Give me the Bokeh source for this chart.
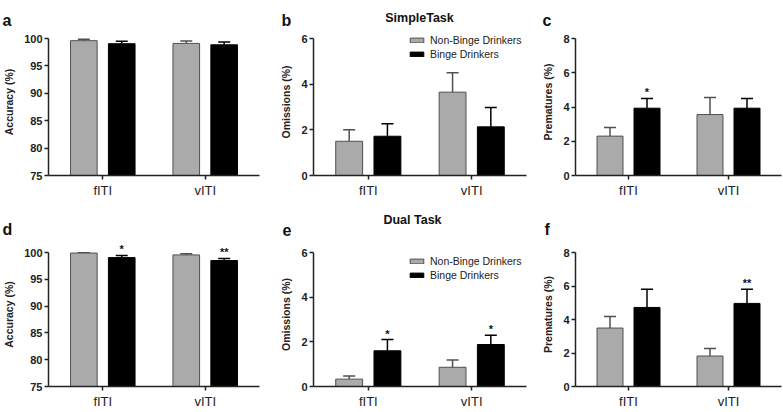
from bokeh.plotting import figure
from bokeh.models import (FactorRange, Range1d, Whisker, TeeHead, ColumnDataSource,
                          LabelSet, FixedTicker)
from bokeh.transform import dodge
from bokeh.layouts import row, column
from bokeh.embed import file_html
from bokeh.resources import INLINE
from bokeh.core.properties import value

# ---------------- data ----------------
categories = ["fITI", "vITI"]
groups = ["Non-Binge Drinkers", "Binge Drinkers"]

row1_letters = ["a", "b", "c"]
row2_letters = ["d", "e", "f"]
row1_title = "SimpleTask"
row2_title = "Dual Task"

acc_label = "Accuracy (%)"
om_label = "Omissions (%)"
pre_label = "Prematures (%)"

acc_ticks = [75, 80, 85, 90, 95, 100]
om_ticks = [0, 2, 4, 6]
pre_ticks = [0, 2, 4, 6, 8]

# Simple task
a_nb = [99.6, 99.1]
a_nb_err = [0.25, 0.45]
a_bd = [99.05, 98.85]
a_bd_err = [0.45, 0.5]

b_nb = [1.5, 3.65]
b_nb_err = [0.5, 0.85]
b_bd = [1.72, 2.13]
b_bd_err = [0.55, 0.85]

c_nb = [2.3, 3.56]
c_nb_err = [0.5, 1.0]
c_bd = [3.93, 3.93]
c_bd_err = [0.57, 0.57]
c_bd_stars = ["*", ""]

# Dual task
d_nb = [99.9, 99.55]
d_nb_err = [0.05, 0.2]
d_bd = [99.05, 98.5]
d_bd_err = [0.4, 0.4]
d_bd_stars = ["*", "**"]

e_nb = [0.33, 0.86]
e_nb_err = [0.14, 0.33]
e_bd = [1.6, 1.88]
e_bd_err = [0.5, 0.42]
e_bd_stars = ["*", "*"]

f_nb = [3.49, 1.82]
f_nb_err = [0.69, 0.45]
f_bd = [4.72, 4.96]
f_bd_err = [1.08, 0.84]
f_bd_stars = ["", "**"]

no_stars = ["", ""]

# ---------------- style / layout ----------------
FONT = "Liberation Sans"
GREY = "#aaaaaa"
GREY_LINE = "#505050"
OFF = 0.185
BW = 0.26
WIDTHS = [264, 263, 255]
TOTAL_W = sum(WIDTHS)
BORDER_L = [47, 49, 48]
BORDER_R = [5, 1, 1]
EXTRA = 10            # px of frame above the top tick (room for stars)


def make_panel(ylabel, ticks, nb, nb_err, bd, bd_err, bd_stars, col,
               height, bt, bb, legend_dy=None):
    width, bl, br = WIDTHS[col], BORDER_L[col], BORDER_R[col]
    y0, y1 = ticks[0], ticks[-1]
    axis_h = height - bt - bb - EXTRA
    y_end = y1 + (y1 - y0) * EXTRA / axis_h
    p = figure(x_range=FactorRange(factors=categories, range_padding=0.03),
               y_range=Range1d(y0, y_end), width=width, height=height,
               output_backend="svg", toolbar_location=None, title=None,
               min_border_left=bl, min_border_right=br,
               min_border_top=bt, min_border_bottom=bb)
    p.outline_line_color = None
    p.grid.visible = False

    legend = legend_dy is not None
    specs = [
        (nb, nb_err, no_stars, -OFF, GREY, GREY_LINE, groups[0]),
        (bd, bd_err, bd_stars, OFF, "black", "black", groups[1]),
    ]
    for vals, errs, stars, off, fc, lc, name in specs:
        hi = [v + e for v, e in zip(vals, errs)]
        src = ColumnDataSource(dict(x=categories, top=vals, hi=hi, star=stars))
        xpos = dodge("x", off, range=p.x_range)
        kw = dict(legend_label=name) if legend else {}
        p.vbar(x=xpos, top="top", bottom=y0, width=BW, source=src,
               fill_color=fc, line_color=lc, line_width=1, **kw)
        p.add_layout(Whisker(base=xpos, lower="top", upper="hi", source=src,
                             line_color=lc, line_width=1.5,
                             upper_head=TeeHead(size=12, line_color=lc, line_width=1.5),
                             lower_head=None))
        p.add_layout(LabelSet(x=xpos, y="hi", text="star", source=src,
                              text_align="center", text_baseline="alphabetic",
                              y_offset=2, text_font=value(FONT),
                              text_font_size=value("11px"), text_font_style="bold",
                              text_color="#111111"))

    for ax in (p.xaxis[0], p.yaxis[0]):
        ax.axis_line_width = 1.5
        ax.axis_line_color = "#222222"
        ax.major_tick_line_width = 1.5
        ax.major_tick_line_color = "#222222"
        ax.major_tick_out = 4
        ax.major_tick_in = 0
        ax.minor_tick_line_color = None
    p.xaxis.major_label_text_font = FONT
    p.xaxis.major_label_text_font_size = "13px"
    p.xaxis.major_label_text_color = "#222222"
    p.xaxis.major_label_standoff = 3

    p.yaxis.ticker = FixedTicker(ticks=ticks)
    p.yaxis.bounds = (y0, y1)
    p.yaxis.major_label_text_font = FONT
    p.yaxis.major_label_text_font_size = "11px"
    p.yaxis.major_label_text_font_style = "bold"
    p.yaxis.major_label_text_color = "#222222"
    p.yaxis.major_label_standoff = 2
    p.yaxis.axis_label = ylabel
    p.yaxis.axis_label_text_font = FONT
    p.yaxis.axis_label_text_font_size = "10.5px"
    p.yaxis.axis_label_text_font_style = "bold"
    p.yaxis.axis_label_text_color = "#222222"
    p.yaxis.axis_label_standoff = 6

    if legend:
        lg = p.legend[0]
        frame_w = width - bl - br
        lg.location = (frame_w - 118, axis_h + legend_dy)
        lg.background_fill_alpha = 0
        lg.border_line_alpha = 0
        lg.padding = 0
        lg.margin = 0
        lg.spacing = 1
        lg.glyph_width = 17
        lg.glyph_height = 6
        lg.label_height = 13
        lg.label_standoff = 5
        lg.label_text_font = FONT
        lg.label_text_font_size = "10.5px"
        lg.label_text_color = "#222222"
    return p


def make_header(height, letters, title, letter_base, title_base, letter_dx, title_x):
    h = figure(width=TOTAL_W, height=height, x_range=Range1d(0, TOTAL_W),
               y_range=Range1d(0, height), output_backend="svg",
               toolbar_location=None, title=None, min_border=0,
               x_axis_location=None, y_axis_location=None)
    h.outline_line_color = None
    h.grid.visible = False
    lefts = [sum(WIDTHS[:i]) + BORDER_L[i] for i in range(3)]
    lx = [lefts[i] + letter_dx[i] for i in range(3)]
    h.text(x=lx, y=[letter_base] * 3, text=letters, text_font=value(FONT),
           text_font_size=value("16px"), text_font_style="bold",
           text_align="left", text_baseline="alphabetic", text_color="#111111")
    h.text(x=[title_x], y=[title_base], text=[title], text_font=value(FONT),
           text_font_size=value("12.5px"), text_font_style="bold",
           text_align="center", text_baseline="alphabetic", text_color="#111111")
    return h


H1, BT1, BB1 = 172, 0, 25
H2, BT2, BB2 = 173, 4, 25

pa = make_panel(acc_label, acc_ticks, a_nb, a_nb_err, a_bd, a_bd_err, no_stars, 0, H1, BT1, BB1)
pb = make_panel(om_label, om_ticks, b_nb, b_nb_err, b_bd, b_bd_err, no_stars, 1, H1, BT1, BB1, legend_dy=-22)
pc = make_panel(pre_label, pre_ticks, c_nb, c_nb_err, c_bd, c_bd_err, c_bd_stars, 2, H1, BT1, BB1)
pd_ = make_panel(acc_label, acc_ticks, d_nb, d_nb_err, d_bd, d_bd_err, d_bd_stars, 0, H2, BT2, BB2)
pe = make_panel(om_label, om_ticks, e_nb, e_nb_err, e_bd, e_bd_err, e_bd_stars, 1, H2, BT2, BB2, legend_dy=-29)
pf = make_panel(pre_label, pre_ticks, f_nb, f_nb_err, f_bd, f_bd_err, f_bd_stars, 2, H2, BT2, BB2)

hdr1 = make_header(28, row1_letters, row1_title, 8, 11, [-45, -32, -33], 419)
hdr2 = make_header(38, row2_letters, row2_title, 9, 19, [-45, -31, -31], 412)

layout = column(hdr1, row(pa, pb, pc), hdr2, row(pd_, pe, pf))

open("out.html", "w").write(file_html(layout, INLINE))
